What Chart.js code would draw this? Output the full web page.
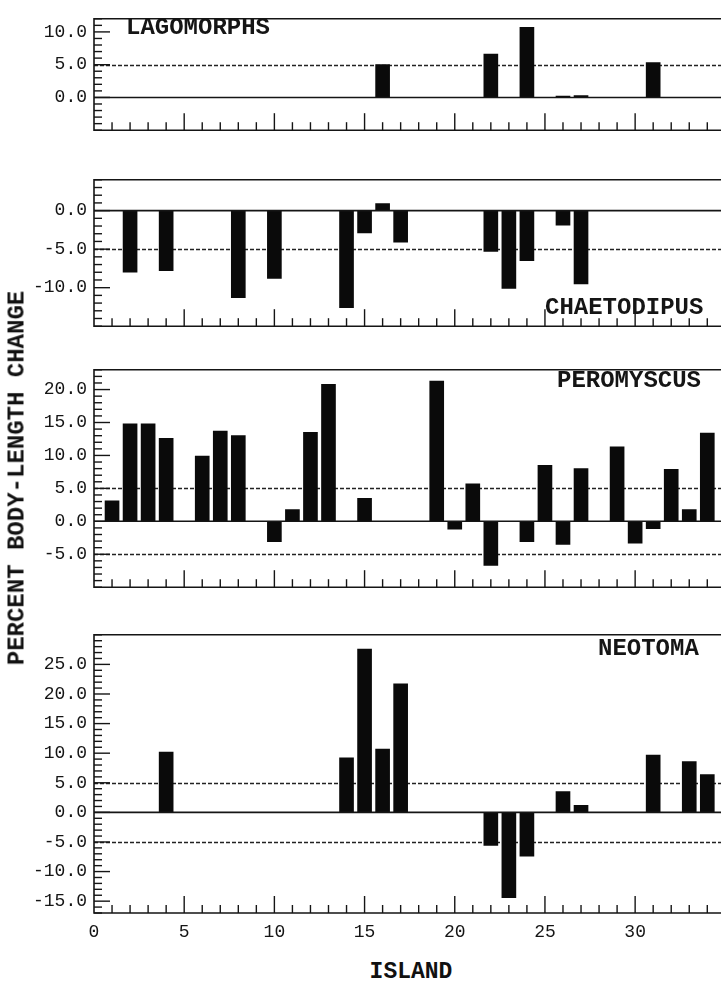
<!DOCTYPE html>
<html><head><meta charset="utf-8">
<script src="https://cdn.jsdelivr.net/npm/chart.js@4"></script>
<style>
html,body{margin:0;padding:0;background:#fff;}
#wrap{position:relative;width:721px;height:983px;overflow:hidden;background:#fff;}
canvas{position:absolute;left:0;}
.lbl{position:absolute;font-family:'Liberation Mono',monospace;font-weight:bold;color:#111;white-space:nowrap;}
#ytitle{left:17px;top:478px;font-size:24px;transform:translate(-50%,-50%) rotate(-90deg);}
#xtitle{left:411px;top:972px;font-size:23px;transform:translate(-50%,-50%);}
</style></head><body>
<div id="wrap">
<canvas id="c0"></canvas>
<canvas id="c1"></canvas>
<canvas id="c2"></canvas>
<canvas id="c3"></canvas>
<div class="lbl" id="ytitle">PERCENT BODY-LENGTH CHANGE</div>
<div class="lbl" id="xtitle">ISLAND</div>
</div>
<script>
// ---- data ----
const islandTicks = [0, 5, 10, 15, 20, 25, 30];
const panelNames = ['LAGOMORPHS', 'CHAETODIPUS', 'PEROMYSCUS', 'NEOTOMA'];

const lagoIslands = [16, 22, 24, 26, 27, 31];
const lagoValues  = [5.0, 6.6, 10.7, 0.2, 0.3, 5.3];
const lagoYTicks  = [0, 5, 10];

const chaeIslands = [2, 4, 8, 10, 14, 15, 16, 17, 22, 23, 24, 26, 27];
const chaeValues  = [-8.0, -7.8, -11.3, -8.8, -12.6, -2.9, 0.9, -4.1, -5.3, -10.1, -6.5, -1.9, -9.5];
const chaeYTicks  = [-10, -5, 0];

const peroIslands = [1, 2, 3, 4, 6, 7, 8, 10, 11, 12, 13, 15, 19, 20, 21, 22, 24, 25, 26, 27, 29, 30, 31, 32, 33, 34];
const peroValues  = [3.1, 14.8, 14.8, 12.6, 9.9, 13.7, 13.0, -3.1, 1.8, 13.5, 20.8, 3.5, 21.3, -1.2, 5.7, -6.7, -3.1, 8.5, -3.5, 8.0, 11.3, -3.3, -1.1, 7.9, 1.8, 13.4];
const peroYTicks  = [-5, 0, 5, 10, 15, 20];

const neoIslands = [4, 14, 15, 16, 17, 22, 23, 24, 26, 27, 31, 33, 34];
const neoValues  = [10.2, 9.2, 27.6, 10.7, 21.7, -5.6, -14.4, -7.4, 3.5, 1.2, 9.7, 8.6, 6.4];
const neoYTicks  = [-15, -10, -5, 0, 5, 10, 15, 20, 25];

// ---- layout / styling ----
const panels = [
  {islands: lagoIslands, values: lagoValues, yTicks: lagoYTicks, min: -5,  max: 12, top: 7,   bottom: 142, tx: 126, ty: 34},
  {islands: chaeIslands, values: chaeValues, yTicks: chaeYTicks, min: -15, max: 4,  top: 168, bottom: 338, tx: 545, ty: 314},
  {islands: peroIslands, values: peroValues, yTicks: peroYTicks, min: -10, max: 23, top: 358, bottom: 599, tx: 557, ty: 387},
  {islands: neoIslands,  values: neoValues,  yTicks: neoYTicks,  min: -17, max: 30, top: 623, bottom: 913, tx: 598, ty: 655}
];
const INK = '#151515';
const MONO = "'Liberation Mono', 'DejaVu Sans Mono', monospace";

const framePlugin = {
  id: 'frame',
  beforeDatasetsDraw(chart, args, o) {
    const {ctx, chartArea: a, scales: {y}} = chart;
    ctx.save();
    ctx.strokeStyle = '#222';
    ctx.lineWidth = 1.3;
    ctx.setLineDash([4, 2]);
    [5, -5].forEach(v => {
      if (v > y.min && v < y.max) {
        const py = Math.round(y.getPixelForValue(v)) + 0.5;
        ctx.beginPath(); ctx.moveTo(a.left, py); ctx.lineTo(a.right + 5, py); ctx.stroke();
      }
    });
    ctx.restore();
  },
  afterDatasetsDraw(chart, args, o) {
    const {ctx, chartArea: a, scales: {x, y}} = chart;
    ctx.save();
    ctx.strokeStyle = INK;
    ctx.lineWidth = 1.6;
    const p0 = y.getPixelForValue(0);
    ctx.beginPath(); ctx.moveTo(a.left, p0); ctx.lineTo(a.right + 5, p0); ctx.stroke();
    ctx.beginPath();
    ctx.moveTo(a.right + 5, a.top); ctx.lineTo(a.left, a.top); ctx.lineTo(a.left, a.bottom); ctx.lineTo(a.right + 5, a.bottom);
    ctx.stroke();
    ctx.lineWidth = 1.4;
    for (let v = Math.ceil(y.min); v <= Math.floor(y.max); v++) {
      const py = y.getPixelForValue(v);
      const len = o.majors.includes(v) ? 16 : 8;
      ctx.beginPath(); ctx.moveTo(a.left, py); ctx.lineTo(a.left + len, py); ctx.stroke();
    }
    for (let i = 1; i <= Math.floor(x.max); i++) {
      const px = x.getPixelForValue(i);
      const len = (i % 5 === 0) ? 17 : 8;
      ctx.beginPath(); ctx.moveTo(px, a.bottom); ctx.lineTo(px, a.bottom - len); ctx.stroke();
    }
    ctx.fillStyle = INK;
    ctx.font = "bold 24px " + MONO;
    ctx.textBaseline = 'alphabetic';
    ctx.textAlign = 'left';
    ctx.fillText(o.title, o.tx, o.ty - o.offset);
    ctx.restore();
  }
};

panels.forEach((p, i) => {
  const last = i === panels.length - 1;
  const cv = document.getElementById('c' + i);
  const padTop = 6;
  const axisH = last ? 40 : 0;
  const h = (p.bottom - p.top) + padTop + (last ? axisH : 6);
  const canvasTop = p.top - padTop;
  cv.width = 721; cv.height = h;
  cv.style.width = '721px'; cv.style.height = h + 'px';
  cv.style.top = canvasTop + 'px';

  new Chart(cv, {
    type: 'bar',
    data: {
      datasets: [{
        data: p.islands.map((isl, k) => ({x: isl, y: p.values[k]})),
        backgroundColor: '#0a0a0a',
        borderWidth: 0,
        barThickness: 14
      }]
    },
    options: {
      responsive: false,
      animation: false,
      devicePixelRatio: 1,
      layout: {padding: {top: padTop, bottom: last ? 0 : 6, left: 0, right: 0}},
      plugins: {
        legend: {display: false},
        tooltip: {enabled: false},
        frame: {majors: p.yTicks, title: panelNames[i], tx: p.tx, ty: p.ty, offset: canvasTop}
      },
      scales: {
        x: {
          type: 'linear',
          display: last,
          min: 0, max: 34.76,
          offset: false,
          grid: {display: false, drawTicks: false},
          border: {display: false},
          afterFit(s) { s.height = axisH; },
          afterBuildTicks(s) { s.ticks = islandTicks.map(v => ({value: v})); },
          ticks: {
            padding: 8,
            color: INK,
            font: {family: MONO, size: 18},
            callback: v => String(v),
            maxRotation: 0,
            autoSkip: false
          }
        },
        y: {
          type: 'linear',
          min: p.min, max: p.max,
          grid: {display: false, drawTicks: false},
          border: {display: false},
          afterFit(s) { s.width = 94; },
          afterBuildTicks(s) { s.ticks = p.yTicks.map(v => ({value: v})); },
          ticks: {
            padding: 7,
            color: INK,
            font: {family: MONO, size: 18},
            callback: v => Number(v).toFixed(1),
            autoSkip: false
          }
        }
      }
    },
    plugins: [framePlugin]
  });
});
</script>
</body></html>
